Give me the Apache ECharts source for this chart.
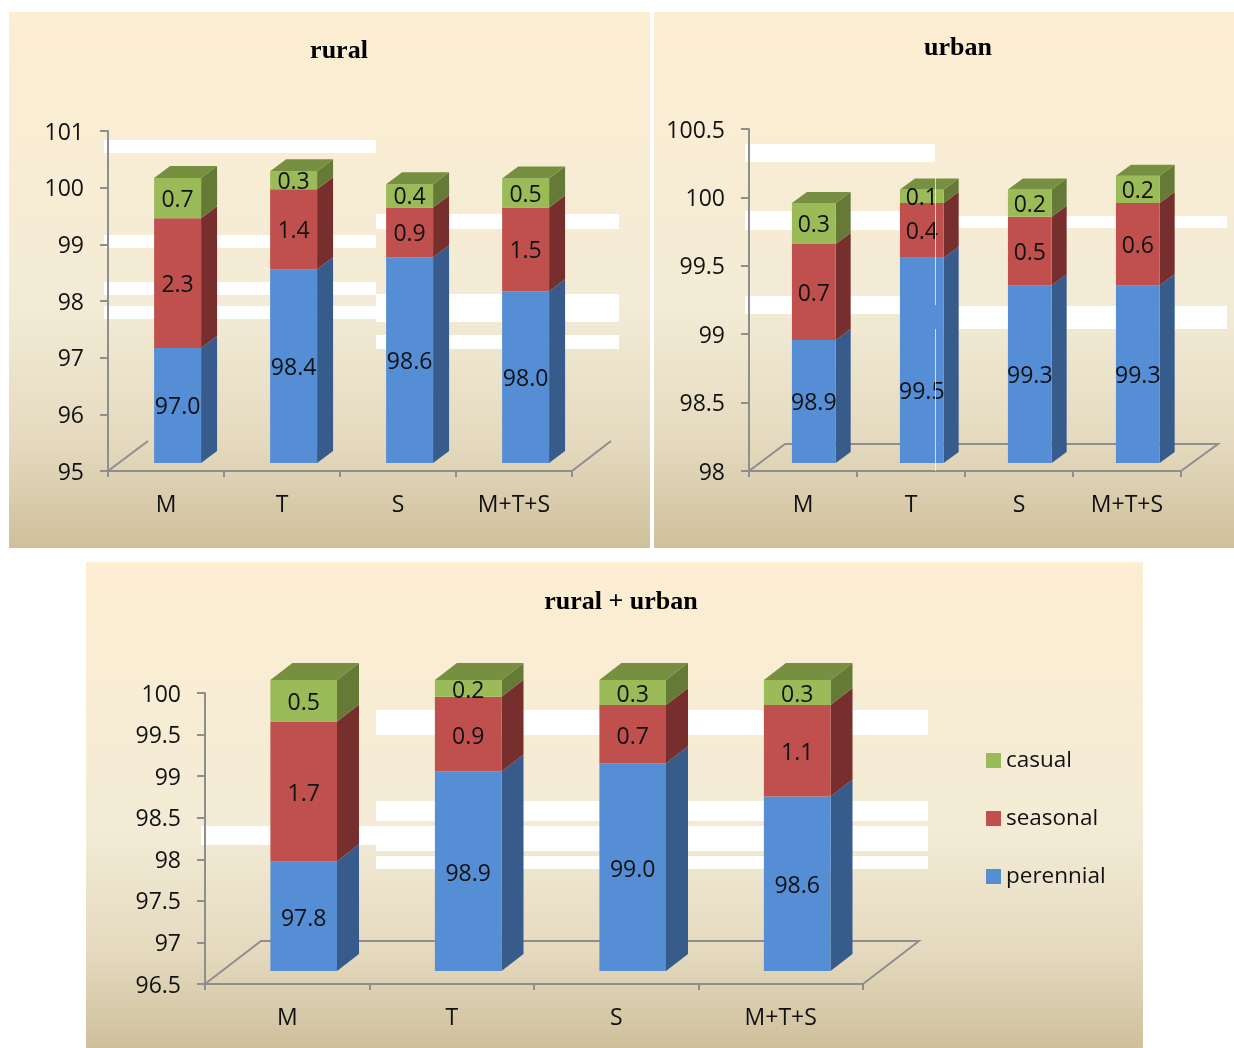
<!DOCTYPE html>
<html>
<head>
<meta charset="utf-8">
<style>html,body{margin:0;padding:0;background:#fff}#c{width:1234px;height:1048px}</style>
<script src="https://cdn.jsdelivr.net/npm/echarts@6/dist/echarts.min.js"></script>
</head>
<body>
<div id="c"></div>
<script>
var categories = ['M', 'T', 'S', 'M+T+S'];
var seriesNames = ['perennial', 'seasonal', 'casual'];

var ruralPerennial = [97.03, 98.42, 98.63, 98.03];
var ruralSeasonal  = [2.29, 1.41, 0.88, 1.48];
var ruralCasual    = [0.71, 0.32, 0.41, 0.51];

var urbanPerennial = [98.9, 99.5, 99.3, 99.3];
var urbanSeasonal  = [0.7, 0.4, 0.5, 0.6];
var urbanCasual    = [0.3, 0.1, 0.2, 0.2];

var bothPerennial = [97.82, 98.9, 99.0, 98.6];
var bothSeasonal  = [1.68, 0.9, 0.7, 1.1];
var bothCasual    = [0.5, 0.2, 0.3, 0.3];

var FONT = '"Open Sans", sans-serif';
var AXIS = '#8e8e8e';
var FRONT = ['#558ed5', '#c0504d', '#9bbb59'];
var SIDE  = ['#375b8a', '#772f2e', '#667a38'];
var TOP   = '#768f41';

var charts = [
  { title: 'rural', titleX: 339, titleY: 52,
    panel: [9, 12, 641, 536], grid: [108, 131, 464, 340],
    min: 95, max: 101, interval: 1, values: [ruralPerennial, ruralSeasonal, ruralCasual],
    lift: 8, dx: 16, dy: 12, labelDy: 2, labelShift: {},
    floor: [[[108, 471], [148, 441]], [[572, 471], [611, 441]]],
    stripes: [[104,140,272,13],[104,235,272,13],[104,282,272,13],[104,306,272,13],
              [376,214,243,15],[376,294,243,28],[376,335,243,14]] },
  { title: 'urban', titleX: 958, titleY: 49,
    panel: [654, 12, 580, 536], grid: [749, 129, 432, 342],
    min: 98, max: 100.5, interval: 0.5, values: [urbanPerennial, urbanSeasonal, urbanCasual],
    lift: 8, dx: 15, dy: 11, labelDy: 2, labelShift: { '0-1': 30 },
    floor: [[[749, 471], [785, 444], [1218, 444], [1181, 471]]],
    stripes: [[745,144,190,18],[745,211,190,19],[745,296,190,18],
              [935,216,292,12],[935,306,292,23]] },
  { title: 'rural + urban', titleX: 621, titleY: 603,
    panel: [86, 562, 1057, 486], grid: [205, 693, 658, 291],
    min: 96.5, max: 100, interval: 0.5, values: [bothPerennial, bothSeasonal, bothCasual],
    lift: 13, dx: 22, dy: 17, labelDy: 3, labelShift: {},
    floor: [[[205, 984], [261, 941], [919, 941], [863, 984]]],
    stripes: [[201,826,175,19],[376,710,552,25],[376,801,552,20],[376,826,552,25],[376,856,552,13]] }
];

function stackRender(cfg, layer) {
  return function (params, api) {
    var cat = api.value(0);
    var p0 = api.coord([cat, api.value(1)]);
    var p1 = api.coord([cat, api.value(2)]);
    var band = api.size([1, 0])[0];
    var w = band * 0.405;
    var cx = p0[0] + band * 0.1;
    var x0 = cx - w / 2, x1 = cx + w / 2;
    var yb = p0[1] - cfg.lift, yt = p1[1] - cfg.lift;
    var kids = [
      { type: 'polygon', shape: { points: [[x1, yb], [x1 + cfg.dx, yb - cfg.dy], [x1 + cfg.dx, yt - cfg.dy], [x1, yt]] },
        style: { fill: SIDE[layer] } },
      { type: 'rect', shape: { x: x0, y: yt, width: w, height: yb - yt }, style: { fill: FRONT[layer] } }
    ];
    if (layer === 2) {
      kids.push({ type: 'polygon', shape: { points: [[x0, yt], [x0 + cfg.dx, yt - cfg.dy], [x1 + cfg.dx, yt - cfg.dy], [x1, yt]] },
        style: { fill: TOP } });
    }
    var shift = cfg.labelShift[layer + '-' + cat] || 0;
    kids.push({ type: 'text', z2: 10, style: { x: cx, y: (yb + yt) / 2 + cfg.labelDy + shift, text: api.value(3).toFixed(1),
      fill: '#111', font: '23px ' + FONT, textAlign: 'center', textVerticalAlign: 'middle' } });
    return { type: 'group', children: kids };
  };
}

var option = {
  animation: false, backgroundColor: '#ffffff',
  title: [], grid: [], xAxis: [], yAxis: [], series: [], graphic: { elements: [] },
  legend: {
    orient: 'vertical', left: 986, top: 749, padding: 0, itemWidth: 15, itemHeight: 15, itemGap: 35,
    icon: 'rect', selectedMode: false, data: ['casual', 'seasonal', 'perennial'],
    textStyle: { fontFamily: FONT, fontSize: 22.5, color: '#111' }
  }
};

charts.forEach(function (cfg, i) {
  option.graphic.elements.push({ type: 'rect', z: -10, silent: true,
    shape: { x: cfg.panel[0], y: cfg.panel[1], width: cfg.panel[2], height: cfg.panel[3] },
    style: { fill: { type: 'linear', x: 0, y: 0, x2: 0, y2: 1, colorStops: [
      { offset: 0, color: '#fdeed2' }, { offset: 0.55, color: '#f3ebd6' },
      { offset: 0.8, color: '#e5dabf' }, { offset: 1, color: '#cfc09b' }] } } });
  cfg.stripes.forEach(function (s) {
    option.graphic.elements.push({ type: 'rect', z: -5, silent: true,
      shape: { x: s[0], y: s[1], width: s[2], height: s[3] }, style: { fill: '#ffffff' } });
  });
  cfg.floor.forEach(function (pts) {
    option.graphic.elements.push({ type: 'polyline', z: -1, silent: true, shape: { points: pts },
      style: { stroke: AXIS, lineWidth: 2, fill: null } });
  });
  option.title.push({ text: cfg.title, left: cfg.titleX, top: cfg.titleY - 14, textAlign: 'center', padding: 0,
    textStyle: { fontFamily: '"Liberation Serif", serif', fontWeight: 'bold', fontSize: 26, color: '#000' } });
  option.grid.push({ left: cfg.grid[0], top: cfg.grid[1], width: cfg.grid[2], height: cfg.grid[3] });
  option.xAxis.push({ type: 'category', gridIndex: i, data: categories,
    axisLine: { lineStyle: { color: AXIS, width: 2 } },
    axisTick: { show: true, length: 6, lineStyle: { color: AXIS, width: 2 } },
    axisLabel: { fontFamily: FONT, fontSize: 23, color: '#111', margin: 23, interval: 0 } });
  option.yAxis.push({ type: 'value', gridIndex: i, min: cfg.min, max: cfg.max, interval: cfg.interval,
    splitLine: { show: false },
    axisLine: { show: true, lineStyle: { color: AXIS, width: 2 } },
    axisTick: { show: true, length: 8, lineStyle: { color: AXIS, width: 2 } },
    axisLabel: { fontFamily: FONT, fontSize: 23, color: '#111', margin: 24, verticalAlign: 'top', lineHeight: 4,
      formatter: function (v) { return String(+v.toFixed(1)); } } });
  cfg.values.forEach(function (vals, layer) {
    var data = categories.map(function (c, k) {
      var base = layer === 0 ? cfg.min : cfg.values.slice(0, layer).reduce(function (a, arr) { return a + arr[k]; }, 0);
      var top = layer === 0 ? vals[k] : base + vals[k];
      return [k, base, top, vals[k]];
    });
    option.series.push({ type: 'custom', name: seriesNames[layer], xAxisIndex: i, yAxisIndex: i, z: 3 + layer,
      itemStyle: { color: FRONT[layer] }, encode: { x: 0, y: [1, 2] }, renderItem: stackRender(cfg, layer), data: data });
  });
});
// thin white seam that crosses the urban panel
option.graphic.elements.push({ type: 'rect', z: 100, silent: true, shape: { x: 935, y: 177, width: 1, height: 128 }, style: { fill: 'rgba(255,255,255,0.7)' } });
option.graphic.elements.push({ type: 'rect', z: 100, silent: true, shape: { x: 935, y: 329, width: 1, height: 142 }, style: { fill: 'rgba(255,255,255,0.7)' } });

echarts.init(document.getElementById('c')).setOption(option);
</script>
</body>
</html>
